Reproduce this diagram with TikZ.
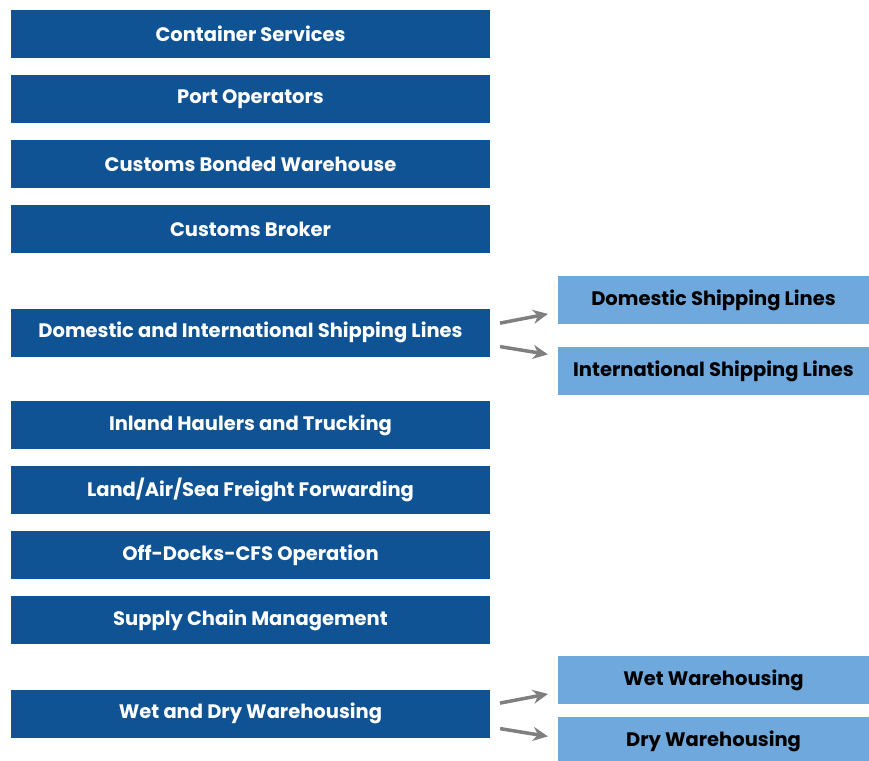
\documentclass[tikz,border=0pt]{standalone}
\usepackage{fontspec}
\setmainfont{Poppins}
\usetikzlibrary{arrows.meta}
\definecolor{darkbox}{HTML}{0F5394}
\definecolor{lightbox}{HTML}{6FA8DC}
\definecolor{arrowgrey}{HTML}{7F7F7F}
\tikzset{
  mainbox/.style={fill=darkbox,text=white,font=\bfseries\fontsize{19.5}{22}\selectfont,minimum width=479pt,minimum height=48pt,inner sep=0pt},
  subbox/.style={fill=lightbox,text=black,font=\bfseries\fontsize{19.5}{22}\selectfont,minimum width=311pt,minimum height=48pt,inner sep=0pt},
  greyarrow/.style={draw=arrowgrey,line width=3.5pt,-{Stealth[length=15pt,width=14pt]},shorten <=10pt,shorten >=10pt}
}
\begin{document}
\begin{tikzpicture}[x=1pt,y=-1pt]
\useasboundingbox (0,0) rectangle (869,760);
%left column
\node[mainbox] (cs) at (250.5,34){Container Services};
\node[mainbox] (po) at (250.5,99){Port Operators};
\node[mainbox] (cbw) at (250.5,164){Customs Bonded Warehouse};
\node[mainbox] (cb) at (250.5,229){Customs Broker};
\node[mainbox] (dis) at (250.5,332.5){Domestic and International Shipping Lines};
\node[mainbox] (iht) at (250.5,425){Inland Haulers and Trucking};
\node[mainbox] (ff) at (250.5,490){Land/Air/Sea Freight Forwarding};
\node[mainbox] (cfs) at (250.5,555){Off-Docks-CFS Operation};
\node[mainbox] (scm) at (250.5,620){Supply Chain Management};
\node[mainbox] (wdw) at (250.5,713.5){Wet and Dry Warehousing};
%right column
\node[subbox] (dsl) at (713.5,300){Domestic Shipping Lines};
\node[subbox] (isl) at (713.5,371){International Shipping Lines};
\node[subbox] (ww) at (713.5,680){Wet Warehousing};
\node[subbox] (dw) at (713.5,741){Dry Warehousing};
%arrows
\draw[greyarrow] ([yshift=7.5pt]dis.east) -- ([yshift=-12pt]dsl.west);
\draw[greyarrow] ([yshift=-12.5pt]dis.east) -- ([yshift=15pt]isl.west);
\draw[greyarrow] ([yshift=8.5pt]wdw.east) -- ([yshift=-12pt]ww.west);
\draw[greyarrow] ([yshift=-13.5pt]wdw.east) -- ([yshift=3pt]dw.west);
\end{tikzpicture}
\end{document}
